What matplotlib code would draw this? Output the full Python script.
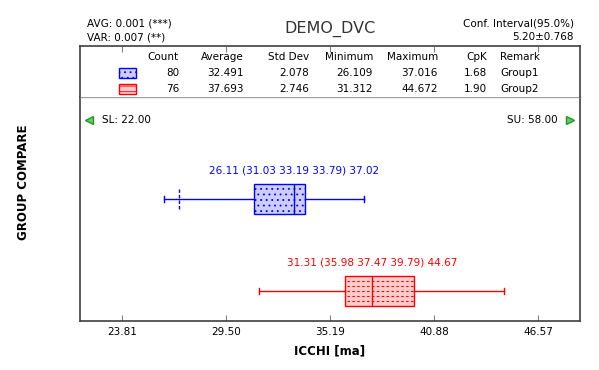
import matplotlib.pyplot as plt
from matplotlib.patches import Rectangle

################################################################################
# data

groups = ["Group1", "Group2"]
counts = [80, 76]
averages = [32.491, 37.693]
std_devs = [2.078, 2.746]
minimums = [26.109, 31.312]
maximums = [37.016, 44.672]
cpks = [1.68, 1.90]
q1s = [31.03, 35.98]
medians = [33.19, 37.47]
q3s = [33.79, 39.79]

x_ticks = [23.81, 29.50, 35.19, 40.88, 46.57]
x_lim = (21.5, 48.85)
sl_value = 22.00
su_value = 58.00

title = "DEMO_DVC"
avg_text = "AVG: 0.001 (***)"
var_text = "VAR: 0.007 (**)"
ci_title = "Conf. Interval(95.0%)"
ci_value = "5.20\u00b10.768"

colors = ["#0000ff", "#ff0000"]
fills = ["#ccccff", "#ffcccc"]

################################################################################

W, H = 599, 370
fig = plt.figure(figsize=(W / 100, H / 100), dpi=100)
plt.rcParams["font.family"] = "DejaVu Sans"
plt.rcParams["hatch.linewidth"] = 0.6
FS = 7.5
frame_col = "#404040"


def rect(x0, y0, x1, y1):
    return [x0 / W, 1 - y1 / H, (x1 - x0) / W, (y1 - y0) / H]


# main plotting area
ax = fig.add_axes(rect(80, 97, 580, 321))
ax.set_xlim(*x_lim)
ax.set_ylim(0.678, 3.105)
ax.set_yticks([])
ax.set_xticks(x_ticks)
ax.set_xticklabels([f"{t:.2f}" for t in x_ticks], fontsize=FS)
ax.tick_params(axis="x", direction="in", length=4, color="#808080", pad=4)
for s in ["left", "right", "bottom"]:
    ax.spines[s].set_color(frame_col)
    ax.spines[s].set_linewidth(1.2)
ax.spines["top"].set_color("#a0a0a0")
ax.spines["top"].set_linewidth(1.0)
ax.set_xlabel("ICCHI [ma]", fontsize=8.5, fontweight="bold", labelpad=6)

positions = [2, 1]
BW = 0.325
for i in range(len(groups)):
    c = colors[i]
    stats = dict(med=medians[i], q1=q1s[i], q3=q3s[i],
                 whislo=minimums[i], whishi=maximums[i], fliers=[])
    bp = ax.bxp([stats], positions=[positions[i]], widths=BW,
                vert=False, patch_artist=True, showfliers=False,
                capwidths=0.065, manage_ticks=False,
                boxprops=dict(facecolor=fills[i], edgecolor=c, linewidth=1.0),
                medianprops=dict(color=c, linewidth=1.0),
                whiskerprops=dict(color=c, linewidth=1.0),
                capprops=dict(color=c, linewidth=1.0))
    box = bp["boxes"][0]
    y0 = positions[i] - BW / 2
    if i == 0:
        box.set_hatch("...")
    else:
        for k in range(1, 6):
            yy = y0 + k * BW / 6
            ax.plot([q1s[i] + 0.1, q3s[i] - 0.05], [yy, yy], color=c, lw=0.8,
                    linestyle=(0, (2.2, 2.2)), zorder=2.5)
    # fence marker (Q1 - 1.5 IQR / Q3 + 1.5 IQR) when inside data range
    iqr = q3s[i] - q1s[i]
    for f in (q1s[i] - 1.5 * iqr, q3s[i] + 1.5 * iqr):
        if minimums[i] < f < maximums[i] and not (q1s[i] <= f <= q3s[i]):
            ax.plot([f, f], [positions[i] - 0.11, positions[i] + 0.11],
                    color=c, lw=1.0, linestyle=(0, (2.5, 1.5)))
    label = f"{minimums[i]:.2f} ({q1s[i]:.2f} {medians[i]:.2f} {q3s[i]:.2f}) {maximums[i]:.2f}"
    ax.text(medians[i], positions[i] + 0.31, label, color=c, fontsize=FS,
            ha="center", va="center")

# spec limits
spec_y = 2.856
ax.plot([sl_value], [spec_y], marker="<", markersize=6, color="#66cc66",
        markeredgecolor="#229922", clip_on=False)
ax.text(sl_value + 0.7, spec_y, f"SL: {sl_value:.2f}", fontsize=FS, va="center")
ax.plot([0.98], [spec_y], marker=">", markersize=6, color="#66cc66",
        markeredgecolor="#229922", transform=ax.get_yaxis_transform(),
        clip_on=False)
ax.text(0.955, spec_y, f"SU: {su_value:.2f}", fontsize=FS, va="center",
        ha="right", transform=ax.get_yaxis_transform())

# table area
at = fig.add_axes(rect(80, 46, 580, 97))
at.set_xlim(*x_lim)
at.set_ylim(97, 46)
at.set_xticks(x_ticks)
at.xaxis.tick_top()
at.tick_params(axis="x", direction="in", length=4, color="#808080",
               labeltop=False, labelbottom=False)
at.set_yticks([])
for s in ["left", "right", "top"]:
    at.spines[s].set_color(frame_col)
    at.spines[s].set_linewidth(1.2)
at.spines["bottom"].set_visible(False)

tx = at.get_yaxis_transform()
px = lambda x: (x - 80) / 500
headers = ["Count", "Average", "Std Dev", "Minimum", "Maximum", "CpK"]
col_right = [179, 244, 309, 373, 438, 487]
for h, xr in zip(headers, col_right):
    at.text(px(xr), 57, h, fontsize=FS, ha="right", va="center", transform=tx)
at.text(px(500), 57, "Remark", fontsize=FS, ha="left", va="center", transform=tx)

row_y = [73, 89]
for i in range(len(groups)):
    vals = [f"{counts[i]}", f"{averages[i]:.3f}", f"{std_devs[i]:.3f}",
            f"{minimums[i]:.3f}", f"{maximums[i]:.3f}", f"{cpks[i]:.2f}"]
    for v, xr in zip(vals, col_right):
        at.text(px(xr), row_y[i], v, fontsize=FS, ha="right", va="center",
                transform=tx)
    at.text(px(500), row_y[i], groups[i], fontsize=FS, ha="left",
            va="center", transform=tx)
    sw = Rectangle((px(119), row_y[i] - 5), px(136) - px(119), 10,
                   facecolor=fills[i], edgecolor=colors[i], lw=1.0,
                   transform=tx, hatch="..." if i == 0 else "---")
    at.add_patch(sw)

# header texts
fig.text(87 / W, 1 - 24 / H, avg_text, fontsize=FS, va="center")
fig.text(87 / W, 1 - 38 / H, var_text, fontsize=FS, va="center")
fig.text(330 / W, 1 - 29 / H, title, fontsize=11.5, ha="center", va="center",
         color="#333333")
fig.text(574 / W, 1 - 24 / H, ci_title, fontsize=FS, ha="right", va="center")
fig.text(574 / W, 1 - 37 / H, ci_value, fontsize=FS, ha="right", va="center")
fig.text(24 / W, 1 - 182 / H, "GROUP COMPARE", fontsize=8.5,
         fontweight="bold", rotation=90, ha="center", va="center")

fig.savefig("out.png", dpi=100)
